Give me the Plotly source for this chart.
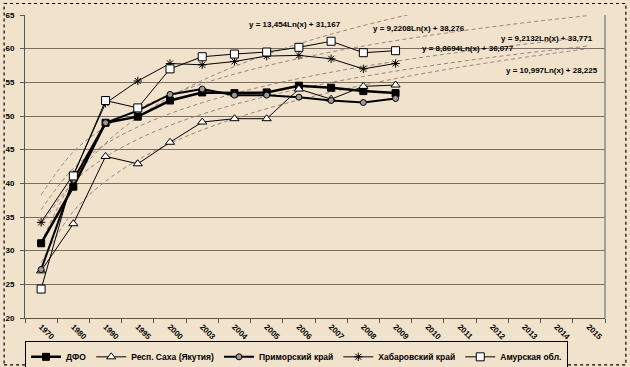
import plotly.graph_objects as go
import numpy as np

categories = ["1970", "1980", "1990", "1995", "2000", "2003", "2004", "2005", "2006",
              "2007", "2008", "2009", "2010", "2011", "2012", "2013", "2014", "2015"]

dfo = [31.1, 39.5, 49.0, 49.9, 52.3, 53.5, 53.4, 53.5, 54.5, 54.2, 53.7, 53.4]
sakha = [27.0, 34.0, 44.0, 42.9, 46.1, 49.1, 49.6, 49.6, 54.0, 52.5, 54.4, 54.6]
primorsky = [27.2, 40.5, 49.0, 50.8, 53.2, 54.0, 53.1, 53.1, 52.8, 52.3, 52.0, 52.6]
khabarovsk = [34.2, 41.3, 51.9, 55.2, 57.8, 57.6, 58.1, 58.9, 59.0, 58.5, 57.0, 57.8]
amur = [24.3, 41.1, 52.3, 51.2, 57.0, 58.8, 59.2, 59.5, 60.2, 61.1, 59.4, 59.7]

series_names = ["ДФО", "Респ. Саха (Якутия)", "Приморский край", "Хабаровский край", "Амурская обл."]

# logarithmic trendlines shown on the chart: y = a*Ln(x) + b
trend_a = [13.454, 9.2208, 9.2132, 8.8694, 10.997]
trend_b = [31.167, 38.276, 33.771, 36.077, 28.225]
trend_labels = ["y = 13,454Ln(x) + 31,167", "y = 9,2208Ln(x) + 38,276",
                "y = 9,2132Ln(x) + 33,771", "y = 8,8694Ln(x) + 36,077",
                "y = 10,997Ln(x) + 28,225"]

FONT = "Liberation Sans, Arial, sans-serif"
BG = "#f1e2cb"

fig = go.Figure()

# trendlines
xi = np.arange(1, len(categories) + 1)
for a, b in zip(trend_a, trend_b):
    fig.add_trace(go.Scatter(
        x=categories, y=a * np.log(xi) + b, mode="lines",
        line=dict(color="#9c8283", width=1, dash="4px,3px", shape="spline"),
        showlegend=False, hoverinfo="skip"))

styles = [
    dict(line=dict(color="black", width=2.5),
         marker=dict(symbol="square", size=7, color="black", line=dict(color="black", width=1))),
    dict(line=dict(color="black", width=1),
         marker=dict(symbol="triangle-up", size=8, color="white", line=dict(color="black", width=1))),
    dict(line=dict(color="black", width=2),
         marker=dict(symbol="circle", size=6, color="#9a9a9a", line=dict(color="black", width=1))),
    dict(line=dict(color="black", width=1),
         marker=dict(symbol="asterisk-open", size=7, color="black", line=dict(color="black", width=1))),
    dict(line=dict(color="black", width=1),
         marker=dict(symbol="square", size=8, color="white", line=dict(color="black", width=1))),
]

for name, vals, st in zip(series_names, [dfo, sakha, primorsky, khabarovsk, amur], styles):
    fig.add_trace(go.Scatter(
        x=categories[:len(vals)], y=vals, mode="lines+markers", name=name,
        line=st["line"], marker=st["marker"]))

label_pos = [(0.4655, 0.970), (0.679, 0.957), (0.900, 0.921), (0.764, 0.888), (0.909, 0.818)]
for txt, (px, py) in zip(trend_labels, label_pos):
    fig.add_annotation(text=txt, x=px, y=py, xref="paper", yref="paper",
                       showarrow=False, xanchor="center", yanchor="middle",
                       font=dict(family=FONT, size=8, color="black", weight="bold"))

# outer dashed frame of the chart
fig.add_shape(type="rect", xref="paper", yref="paper",
              x0=-0.036, x1=1.036, y0=-0.155, y1=1.038,
              line=dict(color="black", width=1.2, dash="dot"), layer="below")

fig.update_layout(
    width=630, height=367,
    margin=dict(l=25, r=25, t=15, b=49, autoexpand=False),
    paper_bgcolor=BG, plot_bgcolor=BG,
    font=dict(family=FONT, size=8, color="black"),
    showlegend=True,
    legend=dict(orientation="h", x=0.0, y=-0.077, xanchor="left", yanchor="top",
                bordercolor="black", borderwidth=1, bgcolor=BG,
                font=dict(family=FONT, size=8.5, color="black", weight="bold"),
                itemwidth=30, tracegroupgap=0, traceorder="normal"),
    xaxis=dict(type="category", categoryorder="array", categoryarray=categories,
               range=[-0.5, 17.5], showgrid=False, showline=True, linecolor="#555",
               linewidth=1, ticks="outside", ticklen=4, tickcolor="#555",
               tickson="boundaries", tickangle=45, automargin=False,
               tickfont=dict(family=FONT, size=8, color="black", weight="bold"),
               zeroline=False, fixedrange=True),
    yaxis=dict(range=[20, 65], dtick=5, showgrid=True, gridcolor="#7a6c64", gridwidth=1,
               showline=True, linecolor="#555", linewidth=1, mirror=False,
               ticks="outside", ticklen=4, tickcolor="#555", ticklabelstandoff=4,
               automargin=False,
               tickfont=dict(family=FONT, size=8, color="black", weight="bold"),
               zeroline=False, fixedrange=True),
)

# right border of plot area
fig.add_shape(type="line", xref="paper", yref="paper", x0=1, x1=1, y0=0, y1=1,
              line=dict(color="#8a8a8a", width=1.5))

fig.write_html("out.html", config={"displayModeBar": False},
               post_script="document.body.style.margin='0';document.body.style.overflow='hidden';")
